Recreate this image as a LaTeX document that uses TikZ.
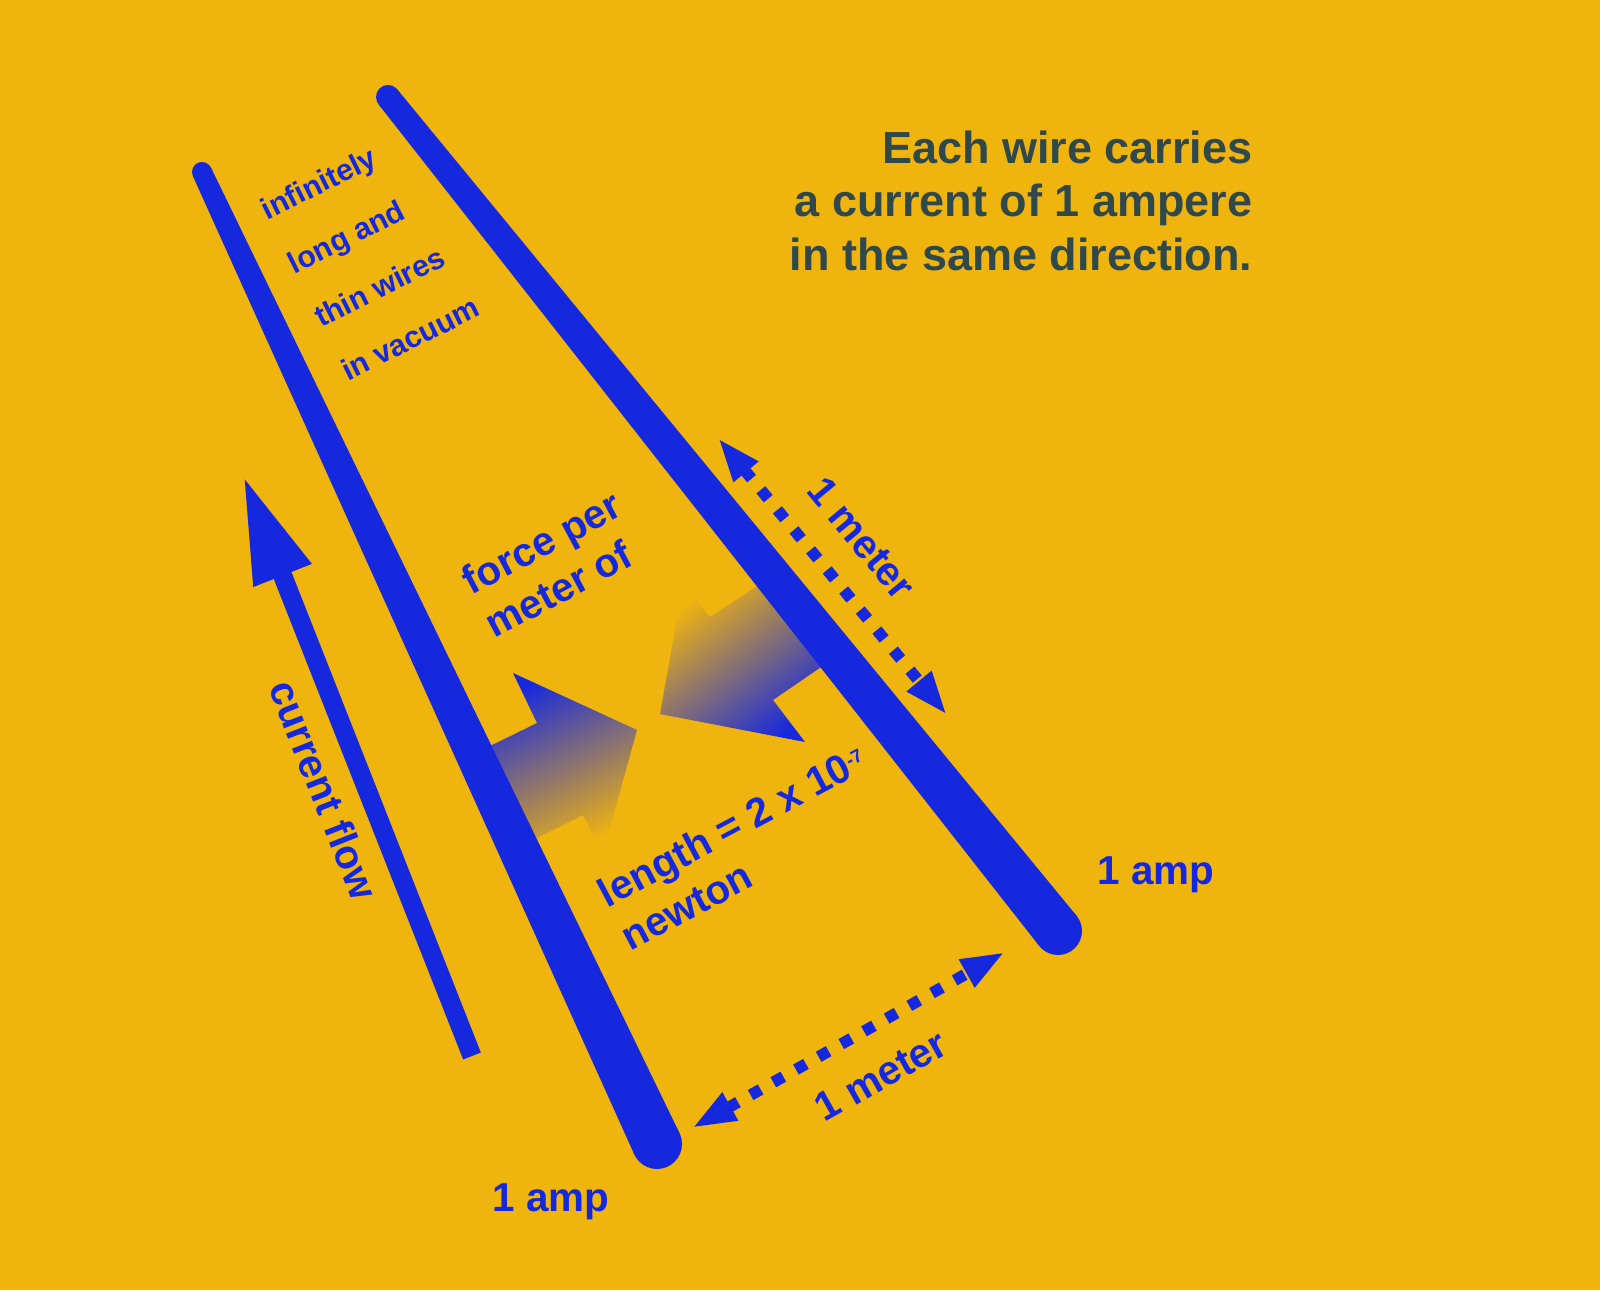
\documentclass[tikz,border=0pt]{standalone}
\usepackage{fontspec}
\setmainfont{Liberation Sans}
\usepackage{tikz}
\usetikzlibrary{arrows.meta,calc}
\definecolor{WireBlue}{HTML}{1628DE}
\definecolor{Amber}{HTML}{F0B40F}
\definecolor{SlateText}{HTML}{2F484A}

\begin{document}
\begin{tikzpicture}[
    wire/.style={fill=WireBlue},
    dimline/.style={WireBlue, line width=0.115cm, dash pattern=on 0.115cm off 0.145cm,
      {Triangle[length=0.44cm,width=0.29cm]}-{Triangle[length=0.44cm,width=0.29cm]}},
    bluetext/.style={text=WireBlue, font=\bfseries\fontsize{11.5}{13.9}\selectfont, inner sep=0pt}
  ]
  % Background
  \fill[Amber] (0,0) rectangle (16,12.9);
  \useasboundingbox (0,0) rectangle (16,12.9);

  % Force arrows
  \shade[top color=WireBlue, bottom color=Amber, shading angle=26.6]
    (4.84,5.41) -- (5.37,5.67) -- (5.13,6.17) -- (6.37,5.60) -- (6.03,4.37) -- (5.83,4.75) -- (5.31,4.49) -- cycle;
  \shade[top color=Amber, bottom color=WireBlue, shading angle=37.8]
    (7.62,7.07) -- (7.10,6.73) -- (6.83,7.05) -- (6.60,5.76) -- (8.05,5.48) -- (7.73,5.90) -- (8.27,6.27) -- cycle;

  % Left wire
  \coordinate (lwtop) at (2.02,11.18);
  \coordinate (lwbot) at (6.57,1.46);
  \fill[wire] ($(lwtop)!0.10cm!90:(lwbot)$) -- ($(lwbot)!0.25cm!-90:(lwtop)$)
    -- ($(lwbot)!0.25cm!90:(lwtop)$) -- ($(lwtop)!0.10cm!-90:(lwbot)$) -- cycle;
  \fill[wire] (lwtop) circle (0.10);
  \fill[wire] (lwbot) circle (0.25);

  % Right wire
  \coordinate (rwtop) at (3.88,11.93);
  \coordinate (rwbot) at (10.58,3.59);
  \fill[wire] ($(rwtop)!0.12cm!90:(rwbot)$) -- ($(rwbot)!0.24cm!-90:(rwtop)$)
    -- ($(rwbot)!0.24cm!90:(rwtop)$) -- ($(rwtop)!0.12cm!-90:(rwbot)$) -- cycle;
  \fill[wire] (rwtop) circle (0.12);
  \fill[wire] (rwbot) circle (0.24);

  % Current flow
  \coordinate (flowtail) at (4.72,2.34);
  \coordinate (flowtip) at (2.43,8.15);
  \draw[WireBlue, line width=0.19cm, -{Triangle[length=1.08cm,width=0.57cm]}] (flowtail) -- (flowtip);
  \node[bluetext, rotate=-68.5] (flowtext) at (3.24,5.0) {current flow};

  % Distances
  \coordinate (rdimtop) at (7.18,8.52);
  \coordinate (rdimbot) at (9.47,5.75);
  \draw[dimline] (rdimtop) -- node[bluetext, sloped, pos=0.47, above=0.27cm] (rmeter) {1 meter} (rdimbot);
  \coordinate (bdimleft) at (6.92,1.62);
  \coordinate (bdimright) at (10.05,3.38);
  \draw[dimline] (bdimleft) -- node[bluetext, sloped, pos=0.53, below=0.27cm] (bmeter) {1 meter} (bdimright);

  % Labels
  \node[bluetext, font=\bfseries\fontsize{8.6}{17.1}\selectfont, rotate=26.5, align=left] (wiretext) at (3.70,10.32)
    {infinitely\\long and\\thin wires\\in vacuum};
  \node[bluetext, rotate=28, align=left] (forcetext) at (5.53,7.26) {force per\\meter of};
  \node[bluetext, rotate=28, align=left] (lengthtext) at (7.44,4.43)
    {length = 2 x 10{\fontsize{7.5}{9}\selectfont\textsuperscript{-7}}\\newton};
  \node[bluetext] (ampleft) at (5.51,0.88) {1 amp};
  \node[bluetext] (ampright) at (11.56,4.15) {1 amp};

  % Caption
  \node[anchor=north east, align=right, text=SlateText, inner sep=0pt,
    font=\bfseries\fontsize{12.8}{15.2}\selectfont] (caption) at (12.53,11.60)
    {Each wire carries\\a current of 1 ampere\\in the same direction.};
\end{tikzpicture}
\end{document}
